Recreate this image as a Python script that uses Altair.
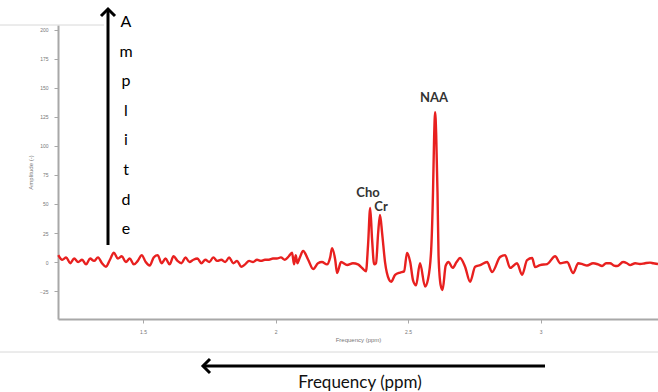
import altair as alt
import pandas as pd

# Spectrum samples: chemical shift (ppm) and amplitude
ppm = [
    1.180, 1.195, 1.210, 1.225, 1.240, 1.255, 1.270, 1.285, 1.300, 1.315,
    1.330, 1.345, 1.360, 1.375, 1.390, 1.405, 1.420, 1.435, 1.450, 1.465,
    1.480, 1.495, 1.510, 1.525, 1.540, 1.555, 1.570, 1.585, 1.600, 1.615,
    1.630, 1.645, 1.660, 1.675, 1.690, 1.705, 1.720, 1.735, 1.750, 1.765,
    1.780, 1.795, 1.810, 1.825, 1.840, 1.855, 1.870, 1.885, 1.900, 1.915,
    1.930, 1.945, 1.960, 1.975, 1.990, 2.005, 2.020, 2.035, 2.050,
    2.062, 2.070, 2.076, 2.082, 2.090, 2.104, 2.123, 2.142, 2.160, 2.175,
    2.194, 2.206, 2.213, 2.225, 2.232, 2.247, 2.270, 2.292, 2.311, 2.326,
    2.341, 2.349, 2.357, 2.364, 2.372, 2.379, 2.387, 2.394, 2.402, 2.413,
    2.428, 2.436, 2.451, 2.470, 2.485, 2.496, 2.508, 2.519, 2.530, 2.545,
    2.564, 2.575, 2.587, 2.594, 2.598, 2.602, 2.606, 2.611, 2.615, 2.623,
    2.630, 2.642, 2.653, 2.668, 2.683, 2.696, 2.715, 2.734, 2.753, 2.772,
    2.798, 2.817, 2.847, 2.866, 2.885, 2.911, 2.930, 2.949, 2.968, 2.979,
    2.998, 3.025, 3.055, 3.074, 3.100, 3.123, 3.142, 3.160, 3.175, 3.198,
    3.217, 3.232, 3.247, 3.262, 3.277, 3.289, 3.311, 3.326, 3.338, 3.357,
    3.375, 3.394, 3.413, 3.425, 3.443,
]
amplitude = [
    6, 2, 4, -1, 3, 0, 2, -2, 3, 1,
    4, -1, -4, 2, 8, 3, 5, 0, 3, -2,
    1, 6, 0, -3, 4, 6, -1, 3, -2, 5,
    1, -1, 4, 0, 2, 3, -1, 2, 0, 4,
    1, 2, 0, 4, -1, 1, -4, -2, 1, 0,
    2, 1, 2, 2, 3, 3, 4, 2, 5,
    8, -2, 6, -1, 3, 9.5, 2, -6, -1, 0,
    -2, 4, 12, 2, -9.5, 0, -2.5, -1, -2, -5,
    -8, 15, 46.5, 20, -2, -1, 25, 40.5, 25, 0,
    -15, -17, -11, -9, -8, 7.8, 0, -16, -20, -1,
    -21, -15, 10, 60, 105, 129, 110, 60, 5, -20,
    -24, -3, 0, -5, 0, 3.5, -4, -17, -4, -2.6,
    0, -8.6, 4.3, 6, -5, -1, -11, 1.7, 3.5, -4.3,
    -2.6, -1.7, 5, -1, 0, -9.5, -1, -2, -3, -1,
    -2, -3.4, -1, -1, -3, -3.4, 0, -1, -2.6, -1,
    -1.7, -1, -0.5, -1, -1.7,
]

# Metabolite peak annotations
peak_names = ["Cho", "Cr", "NAA"]
peak_label_ppm = [2.349, 2.398, 2.598]
peak_label_amp = [59.5, 47.4, 141.0]

x_ticks = [1.5, 2.0, 2.5, 3.0]
y_ticks = [-25, 0, 25, 50, 75, 100, 125, 150, 175, 200]
amp_letters = ["A", "m", "p", "l", "i", "t", "d", "e"]

spec = pd.DataFrame({"ppm": ppm, "amp": amplitude})
peaks = pd.DataFrame({"name": peak_names, "ppm": peak_label_ppm, "amp": peak_label_amp})

x_scale = alt.Scale(domain=[1.179, 3.443], nice=False, zero=False)
y_scale = alt.Scale(domain=[-49, 204], nice=False, zero=False)

x_axis = alt.Axis(values=x_ticks, tickCount=len(x_ticks), format="~g",
                  title="Frequency (ppm)", grid=False, titlePadding=2, labelOverlap=False)
y_axis = alt.Axis(values=y_ticks, tickCount=len(y_ticks), title="Amplitude (-)",
                  grid=False, titlePadding=6, labelOverlap=False)

line = alt.Chart(spec).mark_line(
    color="#e8201f", strokeWidth=2.4, interpolate="monotone"
).encode(
    x=alt.X("ppm:Q", scale=x_scale, axis=x_axis),
    y=alt.Y("amp:Q", scale=y_scale, axis=y_axis),
)

labels = alt.Chart(peaks).mark_text(
    font="Lato", fontSize=13, fontWeight="bold", color="#333333"
).encode(
    x=alt.X("ppm:Q", scale=x_scale, axis=x_axis),
    y=alt.Y("amp:Q", scale=y_scale, axis=y_axis),
    text="name:N",
)

# Hand-drawn style annotation arrows and captions
black = "#000000"
v_arrow = alt.Chart().mark_rule(color=black, strokeWidth=3).encode(
    x=alt.value(50), y=alt.value(220), y2=alt.value(-16))
v_head = alt.Chart().mark_point(
    shape="M-1,1L0,0L1,1", filled=False, stroke=black, strokeWidth=3, size=196, opacity=1
).encode(x=alt.value(50), y=alt.value(-16))
v_text = alt.Chart().mark_text(
    font="Lato", fontSize=16, color=black, align="center", baseline="alphabetic",
    lineHeight=29.6
).encode(x=alt.value(68), y=alt.value(2), text=alt.value(amp_letters))

h_arrow = alt.Chart().mark_rule(color=black, strokeWidth=3).encode(
    x=alt.value(145), x2=alt.value(487), y=alt.value(341))
h_head = alt.Chart().mark_point(
    shape="M1,-1L0,0L1,1", filled=False, stroke=black, strokeWidth=3, size=196, opacity=1
).encode(x=alt.value(145), y=alt.value(341))
h_text = alt.Chart().mark_text(
    font="Lato", fontSize=17, color="#111111", align="center", baseline="alphabetic"
).encode(x=alt.value(302), y=alt.value(363), text=alt.value("Frequency (ppm)"))

sep = alt.Chart().mark_rule(color="#d8d8d8", strokeWidth=1).encode(
    x=alt.value(-58), x2=alt.value(600), y=alt.value(327))
top_sep = alt.Chart().mark_rule(color="#d8d8d8", strokeWidth=1).encode(
    x=alt.value(-58), x2=alt.value(46), y=alt.value(0))

chart = alt.layer(line, labels, sep, top_sep, v_arrow, v_head, v_text, h_arrow, h_head, h_text).properties(
    width=600, height=294,
    autosize=alt.AutoSizeParams(type="none"),
    padding={"left": 58, "top": 25, "right": 0, "bottom": 73},
).configure_view(stroke=None).configure_axis(
    domainColor="#a8a8a8", domainWidth=2, tickColor="#a8a8a8", tickSize=4,
    labelFontSize=5, labelColor="#777777", labelFont="Liberation Sans",
    titleFontSize=6, titleColor="#777777", titleFont="Liberation Sans",
    titleFontWeight="normal", labelPadding=6,
)

chart.save("out.html", embed_options={"renderer": "svg", "actions": False})
